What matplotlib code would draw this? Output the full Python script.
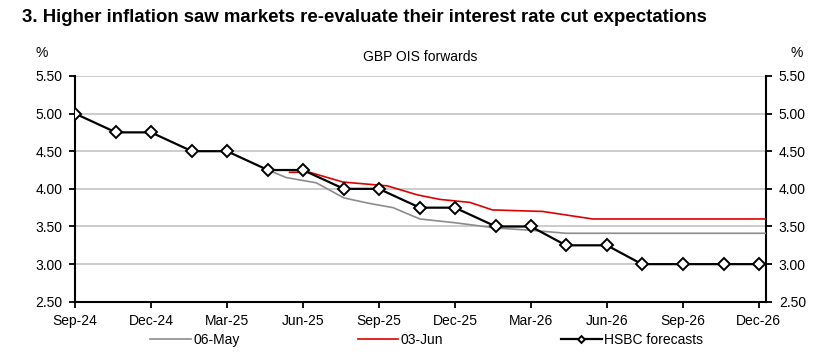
import numpy as np
import pandas as pd
import matplotlib
matplotlib.use("Agg")
import matplotlib.pyplot as plt

plt.rcParams['font.family'] = ['Liberation Sans', 'DejaVu Sans']

# HSBC forecasts at MPC meeting dates
hsbc_dates = ["2024-09-19", "2024-11-07", "2024-12-19", "2025-02-06", "2025-03-20",
              "2025-05-08", "2025-06-19", "2025-08-07", "2025-09-18", "2025-11-06",
              "2025-12-18", "2026-02-05", "2026-03-19", "2026-04-30", "2026-06-18",
              "2026-07-30", "2026-09-17", "2026-11-05", "2026-12-17"]
hsbc_vals = [5.00, 4.75, 4.75, 4.50, 4.50, 4.25, 4.25, 4.00, 4.00, 3.75,
             3.75, 3.50, 3.50, 3.25, 3.25, 3.00, 3.00, 3.00, 3.00]

# GBP OIS forwards, 06-May
may_dates = ["2025-05-08", "2025-05-30", "2025-07-05", "2025-08-07", "2025-09-05",
             "2025-10-05", "2025-11-06", "2025-12-18", "2026-02-05", "2026-03-19",
             "2026-04-30", "2026-12-26"]
may_vals = [4.25, 4.15, 4.08, 3.88, 3.81, 3.75, 3.60, 3.55, 3.48, 3.45, 3.41, 3.41]

# GBP OIS forwards, 03-Jun
jun_dates = ["2025-06-03", "2025-06-27", "2025-08-06", "2025-09-28", "2025-11-03",
             "2025-11-30", "2026-01-05", "2026-02-01", "2026-04-02", "2026-06-01",
             "2026-12-26"]
jun_vals = [4.22, 4.22, 4.09, 4.04, 3.92, 3.86, 3.82, 3.72, 3.70, 3.60, 3.60]

tick_dates = ["2024-09-19", "2024-12-19", "2025-03-20", "2025-06-19", "2025-09-18",
              "2025-12-18", "2026-03-19", "2026-06-18", "2026-09-17", "2026-12-17"]
tick_labels = ["Sep-24", "Dec-24", "Mar-25", "Jun-25", "Sep-25",
               "Dec-25", "Mar-26", "Jun-26", "Sep-26", "Dec-26"]
y_ticks = [2.5, 3.0, 3.5, 4.0, 4.5, 5.0, 5.5]

fig = plt.figure(figsize=(8.24, 3.58), dpi=100)
ax = fig.add_axes([0.091, 0.157, 0.839, 0.631])

ax.plot(pd.to_datetime(may_dates), may_vals, color='#8c8c8c', lw=1.2, label='06-May', zorder=3)
ax.plot(pd.to_datetime(jun_dates), jun_vals, color='#e00000', lw=1.2, label='03-Jun', zorder=3)
ax.plot(pd.to_datetime(hsbc_dates), hsbc_vals, color='black', lw=1.6, marker='D', ms=6.3,
        mfc='white', mec='black', mew=1.4, label='HSBC forecasts', zorder=4)

ax.set_xlim(pd.Timestamp("2024-09-19"), pd.Timestamp("2026-12-26"))
ax.set_ylim(2.5, 5.5)
ax.set_yticks(y_ticks)
ax.set_yticklabels([f"{v:.2f}" for v in y_ticks])
ax.set_xticks(pd.to_datetime(tick_dates))
ax.set_xticklabels(tick_labels)

ax.grid(axis='y', color='#c8c8c8', lw=1.3, zorder=0)
ax.set_axisbelow(True)
for s in ['left', 'right', 'bottom']:
    ax.spines[s].set_linewidth(1.5)
ax.spines['top'].set_visible(False)
ax.tick_params(axis='both', labelsize=10, width=1.3, length=4, direction='out', colors='black')
ax.tick_params(axis='y', right=True, labelright=True, pad=5)
ax.tick_params(axis='x', pad=5)

fig.text(0.027, 0.95, "3. Higher inflation saw markets re-evaluate their interest rate cut expectations",
         fontsize=13.4, fontweight='bold', va='center', ha='left')
fig.text(0.51, 0.84, "GBP OIS forwards", fontsize=10, ha='center', va='center')
fig.text(0.051, 0.852, "%", fontsize=10, ha='center', va='center')
fig.text(0.967, 0.852, "%", fontsize=10, ha='center', va='center')

leg = fig.legend(loc='center', bbox_to_anchor=(0.518, 0.05), ncol=3, frameon=False,
                 fontsize=10, handlelength=2.9, columnspacing=8.5, handletextpad=0.2,
                 markerscale=0.55)

fig.savefig("out.png", dpi=100)
